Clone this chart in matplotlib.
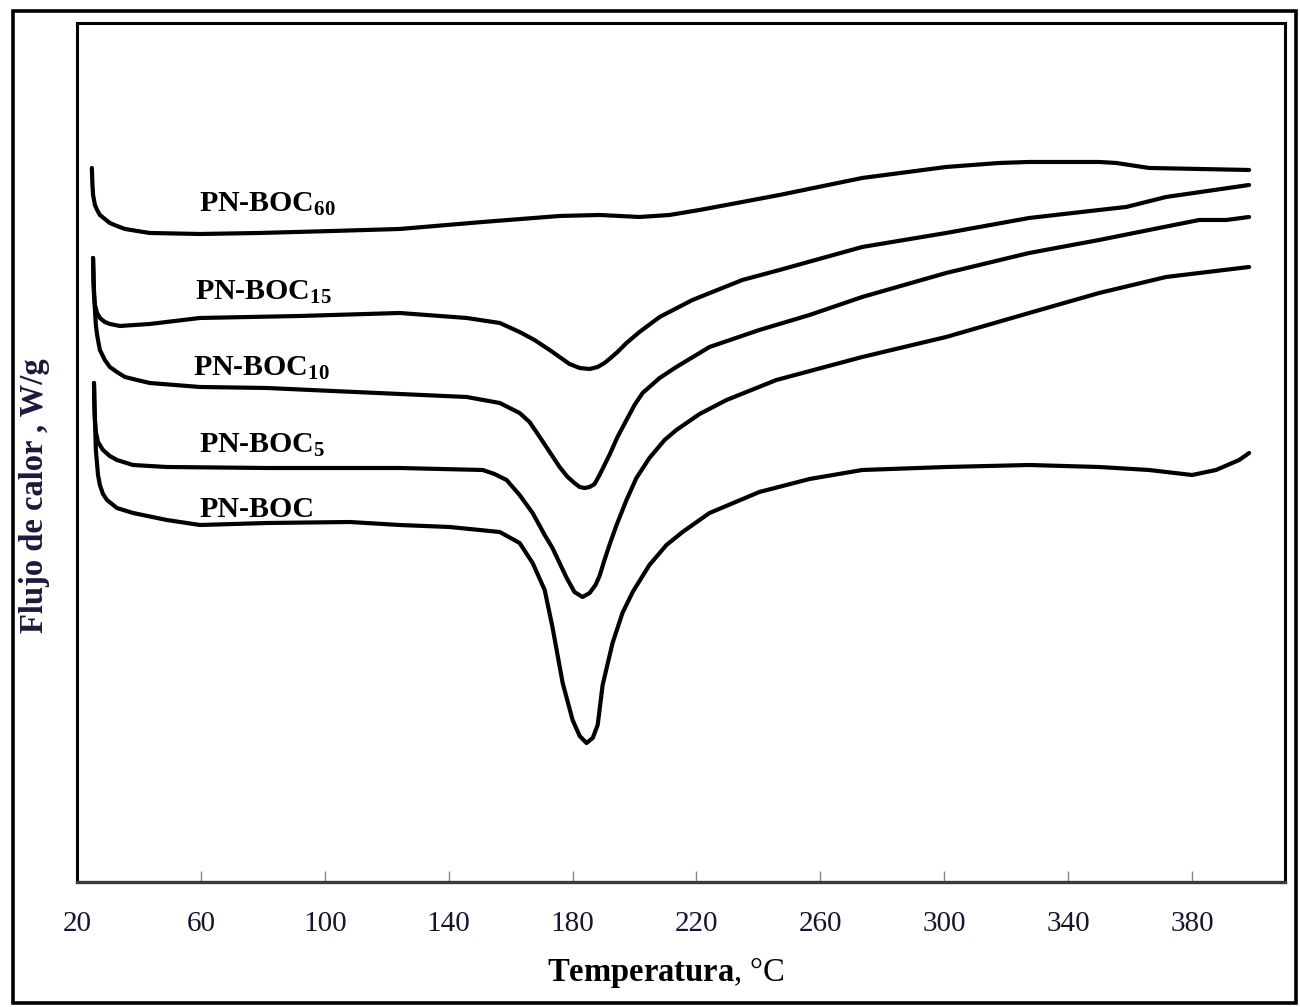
import numpy as np
import matplotlib
matplotlib.use("Agg")
from matplotlib import pyplot as plt
from matplotlib.patches import Rectangle

plt.rcParams['font.family'] = ['Liberation Serif', 'DejaVu Serif']
plt.rcParams['mathtext.fontset'] = 'custom'
plt.rcParams['mathtext.rm'] = 'Liberation Serif:bold'
plt.rcParams['mathtext.bf'] = 'Liberation Serif:bold'
plt.rcParams['mathtext.it'] = 'Liberation Serif:bold:italic'

# DSC curves, temperature (°C) vs heat flow (arbitrary offset units, no y scale in the original)
t_boc60 = [24.8, 25.0, 25.2, 25.8, 26.5, 27.4, 29.0, 30.6, 32.9, 35.5, 39.4, 43.5, 59.7, 79.0, 102.6,
           124.2, 151.0, 175.8, 188.7, 201.6, 211.3, 221.0, 234.8, 246.8, 273.5, 300.6, 317.7, 327.4,
           350.0, 355.5, 366.1, 382.3, 398.4]
q_boc60 = [7.14, 6.97, 6.87, 6.77, 6.72, 6.67, 6.63, 6.59, 6.56, 6.53, 6.51, 6.49, 6.48, 6.49, 6.51,
           6.53, 6.60, 6.66, 6.67, 6.65, 6.67, 6.72, 6.80, 6.87, 7.04, 7.15, 7.19, 7.20,
           7.20, 7.19, 7.14, 7.13, 7.12]

t_boc15 = [25.2, 25.3, 25.5, 25.8, 26.5, 27.4, 29.0, 30.6, 33.9, 38.7, 43.5, 59.7, 91.9, 124.2, 145.8,
           156.5, 162.9, 167.7, 172.6, 175.8, 179.0, 182.3, 185.5, 188.1, 190.3, 191.9, 194.5, 197.4,
           201.6, 208.1, 218.7, 234.8, 246.8, 273.5, 300.6, 327.4, 350.0, 358.7, 371.6, 398.4]
q_boc15 = [6.24, 6.02, 5.87, 5.77, 5.69, 5.64, 5.60, 5.58, 5.56, 5.57, 5.58, 5.64, 5.66, 5.69, 5.64,
           5.59, 5.50, 5.42, 5.32, 5.25, 5.18, 5.14, 5.13, 5.15, 5.19, 5.23, 5.30, 5.39,
           5.50, 5.65, 5.82, 6.02, 6.12, 6.35, 6.49, 6.64, 6.72, 6.75, 6.85, 6.97]

t_boc10 = [25.2, 25.5, 25.8, 26.1, 26.5, 27.4, 29.0, 30.6, 32.9, 35.5, 39.4, 43.5, 59.7, 81.3, 102.6,
           124.2, 145.8, 156.5, 162.9, 166.1, 169.4, 172.6, 175.8, 178.4, 180.6, 182.3, 183.9, 185.5,
           187.1, 188.7, 190.3, 191.9, 194.5, 197.4, 200.0, 202.6, 208.1, 213.5, 224.2, 240.3, 256.5,
           273.5, 300.6, 327.4, 350.0, 366.1, 382.3, 391.0, 398.4]
q_boc10 = [6.24, 5.92, 5.72, 5.57, 5.47, 5.32, 5.22, 5.15, 5.10, 5.05, 5.02, 4.99, 4.95, 4.94, 4.91,
           4.88, 4.85, 4.79, 4.69, 4.60, 4.45, 4.30, 4.15, 4.05, 3.99, 3.95, 3.94, 3.95,
           3.98, 4.07, 4.17, 4.27, 4.45, 4.62, 4.77, 4.89, 5.04, 5.15, 5.35, 5.52, 5.67,
           5.85, 6.09, 6.29, 6.42, 6.52, 6.62, 6.62, 6.65]

t_boc5 = [25.5, 25.6, 25.8, 26.1, 26.8, 28.4, 30.6, 32.9, 38.1, 49.0, 81.3, 124.2, 151.0, 154.8,
          158.7, 162.9, 167.1, 171.0, 173.5, 175.8, 178.1, 180.6, 183.2, 185.5, 187.4, 188.7, 190.3,
          191.9, 194.2, 197.4, 200.6, 204.8, 209.7, 213.5, 221.0, 229.7, 245.8, 273.5, 300.6, 327.4,
          350.0, 371.6, 398.4]
q_boc5 = [4.99, 4.77, 4.62, 4.50, 4.40, 4.32, 4.26, 4.22, 4.17, 4.15, 4.14, 4.14, 4.12, 4.08,
          4.02, 3.87, 3.69, 3.47, 3.34, 3.19, 3.04, 2.90, 2.85, 2.89, 2.97, 3.06, 3.22,
          3.37, 3.57, 3.82, 4.04, 4.24, 4.42, 4.52, 4.68, 4.82, 5.02, 5.25, 5.45, 5.69,
          5.89, 6.05, 6.15]

t_boc = [25.5, 25.8, 26.1, 26.8, 27.4, 28.4, 29.7, 32.9, 38.1, 49.0, 59.7, 81.3, 108.1, 124.2, 140.3,
         156.5, 162.9, 167.1, 171.0, 173.5, 176.8, 180.0, 182.3, 184.5, 186.5, 188.1, 189.7, 192.9,
         196.1, 199.4, 204.8, 210.3, 215.5, 224.2, 240.3, 256.5, 273.5, 300.6, 327.4, 350.0, 366.1,
         380.0, 387.7, 395.2, 398.4]
q_boc = [4.99, 4.62, 4.32, 4.07, 3.97, 3.88, 3.82, 3.74, 3.69, 3.62, 3.57, 3.59, 3.60, 3.57, 3.55,
         3.50, 3.39, 3.19, 2.92, 2.55, 1.99, 1.62, 1.46, 1.39, 1.44, 1.57, 1.97, 2.39,
         2.69, 2.90, 3.17, 3.37, 3.50, 3.69, 3.90, 4.03, 4.12, 4.15, 4.17, 4.15, 4.12,
         4.07, 4.12, 4.22, 4.29]

series = [(t_boc60, q_boc60), (t_boc15, q_boc15), (t_boc10, q_boc10), (t_boc5, q_boc5), (t_boc, q_boc)]

# curve labels: text and anchor (temperature, heat flow)
labels = [r'PN-BOC$_{60}$', r'PN-BOC$_{15}$', r'PN-BOC$_{10}$', r'PN-BOC$_{5}$', 'PN-BOC']
label_t = [59.4, 58.1, 57.4, 59.4, 59.4]
label_q = [6.70, 5.82, 5.06, 4.29, 3.65]

xticks = [20, 60, 100, 140, 180, 220, 260, 300, 340, 380]

fig = plt.figure(figsize=(13, 10.07), dpi=100)
ax = fig.add_axes([0.0592, 0.1241, 0.9293, 0.8531])

for t, q in series:
    ax.plot(t, q, color='black', lw=3.0, solid_capstyle='round', solid_joinstyle='round')

for lab, lt, lq in zip(labels, label_t, label_q):
    ax.text(lt, lq, lab, fontsize=21.5, fontweight='bold', color='black', ha='left', va='baseline')

ax.set_xlim(20, 410)
ax.set_ylim(0, 8.59)
ax.set_xticks(xticks)
ax.set_yticks([])
ax.tick_params(axis='x', direction='in', length=8, width=1, color='#888888',
               labelsize=21, labelcolor='#15152e', pad=21)

for side in ['top', 'right', 'left']:
    ax.spines[side].set_linewidth(2.2)
    ax.spines[side].set_color('black')
ax.spines['bottom'].set_linewidth(2.4)
ax.spines['bottom'].set_color('#3a3a3a')

ax.set_xlabel(r'$\mathbf{Temperatura}$, °C', fontsize=23.5, color='black')
ax.xaxis.set_label_coords(0.4876, -0.085)
ax.set_ylabel('Flujo de calor , W/g', fontsize=23.5, fontweight='bold', color='#1a1a3c')
ax.yaxis.set_label_coords(-0.022, 0.45)

# outer frame around the whole picture
fig.patches.append(Rectangle((0.0097, 0.0035), 0.9875, 0.9855, transform=fig.transFigure,
                             fill=False, edgecolor='black', lw=2.6))

fig.savefig('out.png', dpi=100)
